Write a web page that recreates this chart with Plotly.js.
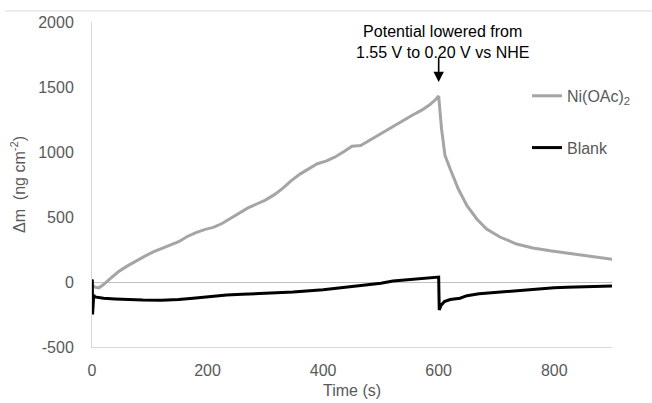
<!DOCTYPE html>
<html>
<head>
<meta charset="utf-8">
<script src="https://cdn.plot.ly/plotly-3.0.1.min.js"></script>
<style>html,body{margin:0;padding:0;background:#fff;}#chart{width:652px;height:403px;}</style>
</head>
<body>
<div id="chart"></div>
<script>
var niTime = [0, 5, 12, 20, 30, 45, 60, 75, 90, 105, 120, 135, 150, 165, 180, 196, 210, 225, 240, 255, 270, 285, 300, 315, 330, 345, 360, 375, 390, 405, 420, 435, 450, 465, 480, 495, 510, 525, 540, 555, 570, 585, 595, 600, 605, 611, 620, 634, 649, 666, 683, 706, 735, 763, 793, 822, 850, 879, 900];
var niMass = [-20, -40, -45, -20, 20, 77, 120, 160, 195, 230, 255, 280, 310, 350, 380, 405, 420, 450, 490, 530, 570, 600, 630, 670, 720, 780, 830, 870, 910, 930, 960, 1000, 1045, 1050, 1090, 1130, 1170, 1210, 1245, 1285, 1320, 1365, 1405, 1430, 1177, 972, 869, 715, 587, 485, 408, 346, 292, 262, 240, 222, 205, 185, 175];
var blankTime = [0, 0.5, 1, 2, 3, 5, 10, 20, 40, 60, 88, 120, 150, 175, 200, 233, 260, 300, 348, 400, 464, 500, 521, 560, 597, 600, 601, 604, 610, 620, 637, 649, 670, 706, 740, 763, 800, 822, 860, 900];
var blankMass = [0, 20, -250, -150, -100, -115, -120, -125, -130, -135, -138, -140, -135, -125, -115, -100, -95, -88, -77, -60, -30, -10, 8, 25, 40, 38, -215, -180, -150, -135, -125, -105, -90, -77, -65, -54, -45, -40, -35, -30];
var seriesNames = ['Ni(OAc)<sub>2</sub>', 'Blank'];
var xTicks = [0, 200, 400, 600, 800];
var yTicks = [-500, 0, 500, 1000, 1500, 2000];
var yTickLabels = ['-500', '0', '500', '1000', '1500', '2000'];

var tickFont = {family: 'Liberation Sans, Arial, sans-serif', size: 16, color: '#595959'};

var traces = [
  {x: niTime, y: niMass, name: seriesNames[0], type: 'scatter', mode: 'lines',
   line: {color: '#a5a5a5', width: 3}, legendgroup: 'a'},
  {x: blankTime, y: blankMass, name: seriesNames[1], type: 'scatter', mode: 'lines',
   line: {color: '#000000', width: 3}, legendgroup: 'b'}
];

var layout = {
  width: 652, height: 403,
  margin: {l: 92, r: 40, t: 22, b: 56},
  paper_bgcolor: '#fff', plot_bgcolor: '#fff',
  font: tickFont,
  showlegend: true,
  legend: {x: 0.8365, y: 0.825, xanchor: 'left', yanchor: 'top', font: tickFont,
           traceorder: 'grouped', tracegroupgap: 28, bgcolor: 'rgba(0,0,0,0)'},
  xaxis: {range: [0, 900], tickvals: xTicks, showgrid: false, zeroline: false,
          showline: true, linecolor: '#d9d9d9', linewidth: 1, ticks: '',
          ticklabelstandoff: 9, tickfont: tickFont,
          title: {text: 'Time (s)', font: tickFont, standoff: 6}},
  yaxis: {range: [-500, 2000], tickvals: yTicks, ticktext: yTickLabels, showgrid: false, zeroline: true,
          zerolinecolor: '#bfbfbf', zerolinewidth: 1,
          showline: true, linecolor: '#d9d9d9', linewidth: 1, ticks: '',
          ticklabelstandoff: 14, tickfont: tickFont,
          title: {text: 'Δm  (ng cm<sup>-2</sup>)', font: tickFont, standoff: 8}},
  shapes: [
    {type: 'line', xref: 'paper', yref: 'paper', x0: -0.167, x1: 1.08, y0: 1.034, y1: 1.034,
     line: {color: '#d9d9d9', width: 1}}
  ],
  annotations: [
    {x: 606, y: 1850, xref: 'x', yref: 'y', showarrow: false,
     text: 'Potential lowered from<br>1.55 V to 0.20 V vs NHE',
     font: {family: 'Liberation Sans, Arial, sans-serif', size: 16, color: '#000'}},
    {x: 600, y: 1538, xref: 'x', yref: 'y', text: '', showarrow: true,
     ax: 0, ay: -26, arrowhead: 2, arrowsize: 1.3, arrowwidth: 1.6, arrowcolor: '#000', standoff: 0}
  ]
};

Plotly.newPlot('chart', traces, layout, {displayModeBar: false, staticPlot: true});
</script>
</body>
</html>
